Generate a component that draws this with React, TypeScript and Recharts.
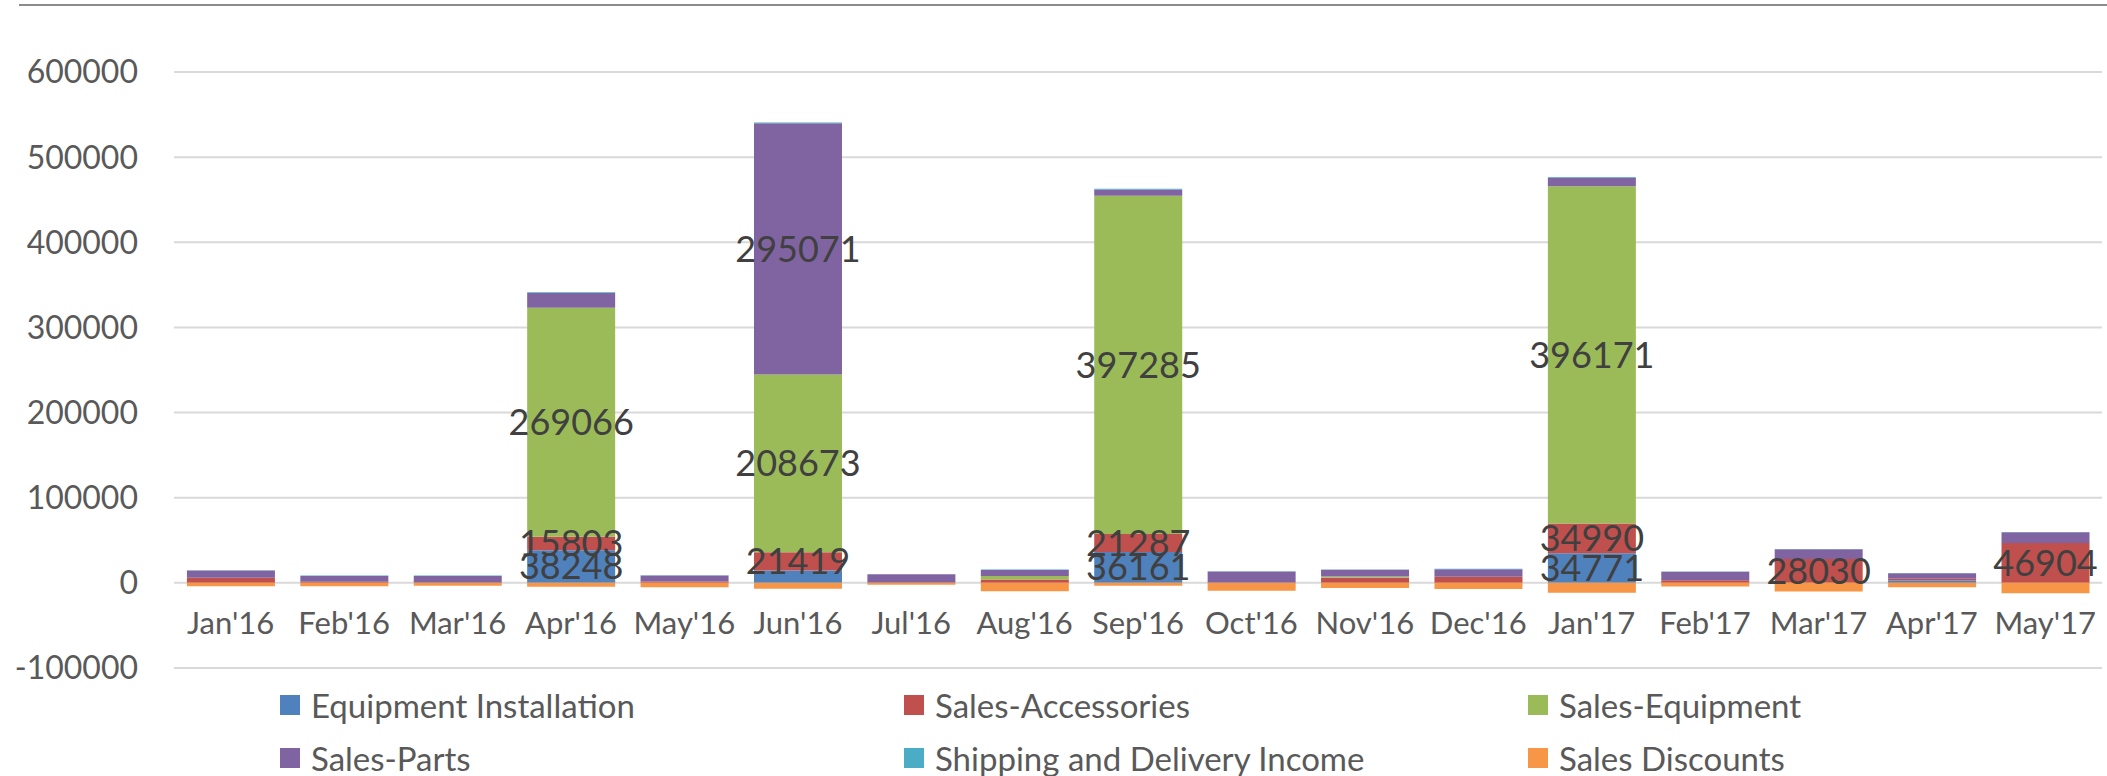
import React from "react";
import { BarChart, Bar, XAxis, YAxis, CartesianGrid, Legend, LabelList } from "recharts";

const months = ["Jan'16", "Feb'16", "Mar'16", "Apr'16", "May'16", "Jun'16", "Jul'16", "Aug'16", "Sep'16", "Oct'16", "Nov'16", "Dec'16", "Jan'17", "Feb'17", "Mar'17", "Apr'17", "May'17"];

const equipmentInstallation = [0, 0, 0, 38248, 0, 14500, 0, 0, 36161, 0, 0, 0, 34771, 0, 0, 2700, 0];
const salesAccessories = [5900, 1200, 0, 15803, 1600, 21419, 0, 3900, 21287, 0, 5900, 7300, 34990, 3100, 28030, 2000, 46904];
const salesEquipment = [0, 0, 0, 269066, 0, 208673, 0, 4300, 397285, 0, 1600, 0, 396171, 0, 0, 0, 0];
const salesParts = [8600, 7000, 8200, 17200, 7000, 295071, 10200, 7000, 7400, 13300, 7800, 8800, 9800, 9800, 11300, 6600, 12500];
const shippingDelivery = [300, 300, 300, 1000, 300, 1000, 0, 500, 800, 300, 300, 400, 900, 300, 300, 300, 300];
const salesDiscounts = [-4000, -3900, -3500, -4500, -5100, -7000, -2300, -9800, -3500, -9400, -5900, -7200, -11700, -4300, -10200, -5100, -12100];

// months whose value is printed on the bar segment
const equipmentInstallationLabeled = ["Apr'16", "Sep'16", "Jan'17"];
const salesAccessoriesLabeled = ["Apr'16", "Jun'16", "Sep'16", "Jan'17", "Mar'17", "May'17"];
const salesEquipmentLabeled = ["Apr'16", "Jun'16", "Sep'16", "Jan'17"];
const salesPartsLabeled = ["Jun'16"];

const seriesNames = ["Equipment Installation", "Sales-Accessories", "Sales-Equipment", "Sales-Parts", "Shipping and Delivery Income", "Sales Discounts"];
const yTicks = [-100000, 0, 100000, 200000, 300000, 400000, 500000, 600000];

const colors = ["#4F81BD", "#C0504D", "#9BBB59", "#8064A2", "#4BACC6", "#F79646"];

const data = months.map((m, i) => ({
  month: m,
  ei: equipmentInstallation[i],
  sa: salesAccessories[i],
  se: salesEquipment[i],
  sp: salesParts[i],
  sd: shippingDelivery[i],
  disc: salesDiscounts[i],
  eiLabel: equipmentInstallationLabeled.includes(m) ? equipmentInstallation[i] : undefined,
  saLabel: salesAccessoriesLabeled.includes(m) ? salesAccessories[i] : undefined,
  seLabel: salesEquipmentLabeled.includes(m) ? salesEquipment[i] : undefined,
  spLabel: salesPartsLabeled.includes(m) ? salesParts[i] : undefined,
}));

const FONT = "Lato, 'Open Sans', sans-serif";
const labelProps = { position: "center" as const, fill: "#404040", fontSize: 36, fontFamily: FONT };

const XTick = (props: any) => {
  const { x, y, payload } = props;
  return (
    <text x={x} y={y - 34} textAnchor="middle" fill="#595959" fontSize={31} fontFamily={FONT}>
      {payload.value}
    </text>
  );
};

const legendCols = [280, 904, 1528];
const legendRows = [705, 758];

const LegendContent = () => (
  <div style={{ position: "relative", width: 2107, height: 0 }}>
    {seriesNames.map((name, i) => {
      const col = i % 3;
      const row = Math.floor(i / 3);
      return (
        <div
          key={name}
          style={{
            position: "absolute",
            left: legendCols[col],
            top: legendRows[row] - 680 - 20,
            height: 40,
            display: "flex",
            alignItems: "center",
            whiteSpace: "nowrap",
          }}
        >
          <div style={{ width: 20, height: 20, background: colors[i], marginRight: 11 }} />
          <span style={{ fontFamily: FONT, fontSize: 33, color: "#595959" }}>{name}</span>
        </div>
      );
    })}
  </div>
);

export default function App() {
  return (
    <div style={{ position: "absolute", left: 0, top: 0, width: 2107, height: 776, background: "#fff" }}>
      <div style={{ position: "absolute", left: 19, top: 4, width: 2088, borderTop: "2px solid #8c8c8c" }} />
      <BarChart
        width={2107}
        height={776}
        data={data}
        stackOffset="sign"
        barCategoryGap="11.4%"
        margin={{ top: 72, right: 5, bottom: 78, left: 0 }}
      >
        <CartesianGrid vertical={false} stroke="#D9D9D9" strokeWidth={2} />
        <XAxis
          dataKey="month"
          height={30}
          axisLine={false}
          tickLine={false}
          tickSize={0}
          tickMargin={0}
          tick={<XTick />}
          interval={0}
        />
        <YAxis
          width={174}
          domain={[-100000, 600000]}
          ticks={yTicks}
          axisLine={false}
          tickLine={false}
          tickSize={0}
          tickMargin={36}
          tick={{ fill: "#595959", fontSize: 32, fontFamily: FONT }}
          interval={0}
        />
        <Legend
          content={<LegendContent />}
          wrapperStyle={{ position: "absolute", left: 0, top: 680, width: 2107, height: 0 }}
        />
        <Bar dataKey="ei" name={seriesNames[0]} stackId="a" fill={colors[0]} isAnimationActive={false}>
          <LabelList dataKey="eiLabel" {...labelProps} />
        </Bar>
        <Bar dataKey="sa" name={seriesNames[1]} stackId="a" fill={colors[1]} isAnimationActive={false}>
          <LabelList dataKey="saLabel" {...labelProps} />
        </Bar>
        <Bar dataKey="se" name={seriesNames[2]} stackId="a" fill={colors[2]} isAnimationActive={false}>
          <LabelList dataKey="seLabel" {...labelProps} />
        </Bar>
        <Bar dataKey="sp" name={seriesNames[3]} stackId="a" fill={colors[3]} isAnimationActive={false}>
          <LabelList dataKey="spLabel" {...labelProps} />
        </Bar>
        <Bar dataKey="sd" name={seriesNames[4]} stackId="a" fill={colors[4]} isAnimationActive={false} />
        <Bar dataKey="disc" name={seriesNames[5]} stackId="a" fill={colors[5]} isAnimationActive={false} />
      </BarChart>
    </div>
  );
}
